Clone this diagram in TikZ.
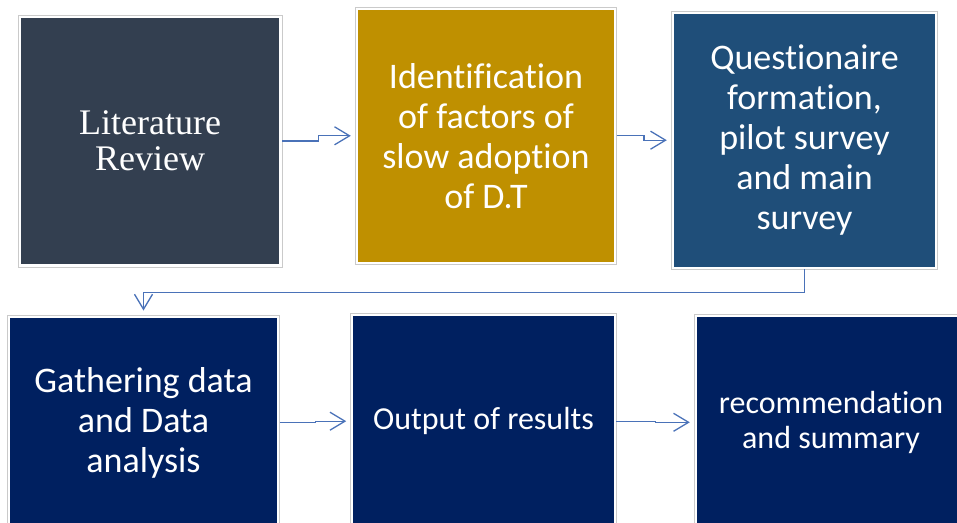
\documentclass[tikz,border=0pt]{standalone}
\usepackage{fontspec}
\setmainfont{Carlito}[Ligatures=NoCommon]
\newfontfamily\serifface{Liberation Serif}
\usetikzlibrary{arrows.meta,calc}

\definecolor{slate}{HTML}{333F50}
\definecolor{gold}{HTML}{BF9000}
\definecolor{steel}{HTML}{1F4E79}
\definecolor{navy}{HTML}{002060}
\definecolor{framegray}{HTML}{CACACA}
\definecolor{linkblue}{HTML}{4A72B8}

\begin{document}
\begin{tikzpicture}[x=1pt,y=-1pt,
  box/.style={draw=framegray, line width=0.9pt, fill=white, inner sep=0pt, outer sep=0pt,
    text=white, align=center,
    path picture={\fill[#1]
      ([xshift=2.6pt,yshift=2.6pt]path picture bounding box.south west) rectangle
      ([xshift=-2.6pt,yshift=-2.6pt]path picture bounding box.north east);}},
  bigtext/.style={font=\fontsize{36}{40}\selectfont},
  smalltext/.style={font=\fontsize{32}{35}\selectfont},
  conn/.style={draw=linkblue, line width=1.3pt, shorten >=4.5pt,
    -{Straight Barb[length=15pt,width=18pt]}}
]
\useasboundingbox (0,0) rectangle (957,522);
\clip (0,0) rectangle (957,522);

% top row
\node[box=slate, minimum width=264pt, minimum height=252pt,
      font=\serifface\fontsize{36}{36}\selectfont] (b1) at (150,141) {Literature\\Review};
\node[box=gold, bigtext, minimum width=261.4pt, minimum height=257pt]
      (b2) at (486,135.8) {Identification\\of factors of\\slow adoption\\of D.T};
\node[box=steel, bigtext, minimum width=266.4pt, minimum height=258.3pt]
      (b3) at (804.5,140.2) {Questionaire\\formation,\\pilot survey\\and main\\survey};

% bottom row
\node[box=navy, bigtext, minimum width=272.4pt, minimum height=215.4pt]
      (b4) at (143.5,422.7) {Gathering data\\and Data\\analysis};
\node[box=navy, smalltext, minimum width=265.6pt, minimum height=216pt]
      (b5) at (483.5,421.2) {Output of results};
\node[box=navy, smalltext, minimum width=273.4pt, minimum height=216pt]
      (b6) at (831,422.3) {recommendation\\and summary};

% connectors
\draw[conn] (b1.east) -| ($(b1.east)!.5!(b2.west)$) |- (b2.west);
\draw[conn] (b2.east) -| ($(b2.east)!.5!(b3.west)$) |- (b3.west);
\path (b3.south) -- (b4.north) coordinate[pos=.5] (m34);
\draw[conn] (b3.south) |- (m34) -| (b4.north);
\draw[conn] (b4.east) -| ($(b4.east)!.5!(b5.west)$) |- (b5.west);
\draw[conn] (b5.east) -| ($(b5.east)!.5!(b6.west)$) |- (b6.west);
\end{tikzpicture}
\end{document}
